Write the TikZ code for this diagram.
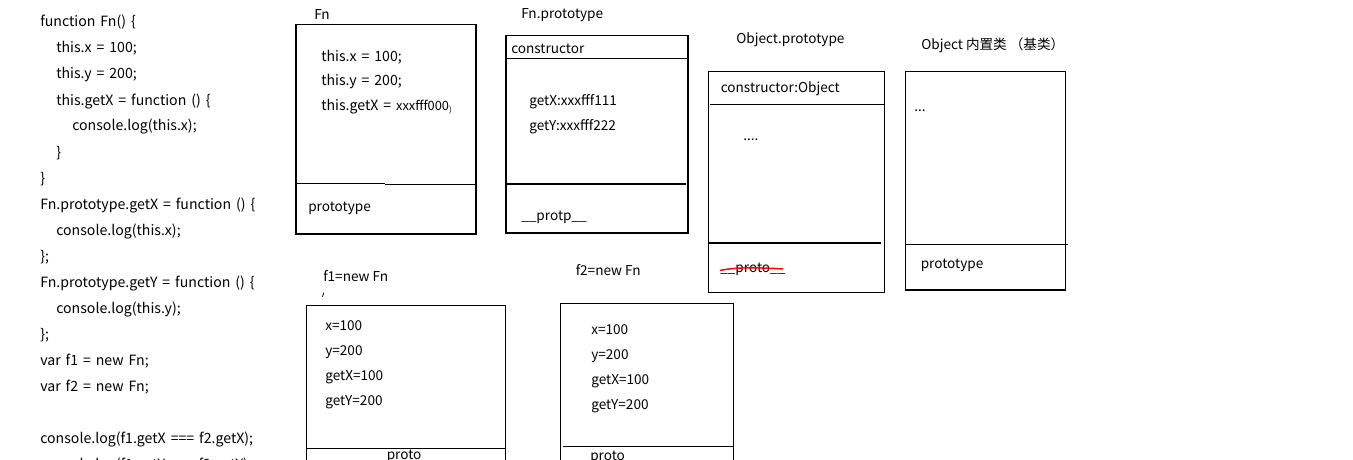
\documentclass[tikz,border=0pt]{standalone}
\usepackage{fontspec}
\setmainfont{Noto Sans CJK SC}
\newcommand{\mycodefont}{\fontsize{10.6}{12}\selectfont\spaceskip=3.7pt\relax}
\begin{document}
\begin{tikzpicture}[x=0.75pt,y=-0.75pt,
  txt/.style={anchor=base west,inner sep=0pt,font=\fontsize{10.2}{12}\selectfont},
  code/.style={anchor=base west,inner sep=0pt,font=\mycodefont},
  box/.style={draw=black,line width=0.8pt},
  sep/.style={draw=black,line width=0.8pt}]
\useasboundingbox (0,0) rectangle (1353,460);
\clip (0,0) rectangle (1353,460);
% code
\node[code] (c1) at (40,27) {function Fn() \{};
\node[code] (c2) at (56,53) {this.x = 100;};
\node[code] (c3) at (56,79) {this.y = 200;};
\node[code] (c4) at (56,105) {this.getX = function () \{};
\node[code] (c5) at (72,131) {console.log(this.x);};
\node[code] (c6) at (56,157) {\}};
\node[code] (c7) at (40,183) {\}};
\node[code] (c8) at (40,209) {Fn.prototype.getX = function () \{};
\node[code] (c9) at (56,235) {console.log(this.x);};
\node[code] (c10) at (40,261) {\};};
\node[code] (c11) at (40,287) {Fn.prototype.getY = function () \{};
\node[code] (c12) at (56,313) {console.log(this.y);};
\node[code] (c13) at (40,339) {\};};
\node[code] (c14) at (40,365) {var f1 = new Fn;};
\node[code] (c15) at (40,391) {var f2 = new Fn;};
\node[code] (c16) at (40,443) {console.log(f1.getX === f2.getX);};
\node[code] (c17) at (40,469) {console.log(f1.getY === f2.getY);};
% Fn box
\node[txt] (fnl) at (314,20) {Fn};
\draw[box] (296,24.5) rectangle (476,234);
\draw[sep] (296,183.7) -- (385,183.7);
\draw[sep] (385,184.2) -- (475,184.2);
\node[code] (fn1) at (321,62) {this.x = 100;};
\node[code] (fn2) at (321,85.5) {this.y = 200;};
\node[code] (fn3) at (321,110.5) {this.getX = {\fontsize{9.6}{10}\selectfont xxxfff000}\raisebox{-1.5pt}{\fontsize{6}{7}\selectfont )}};
\node[txt] (fn4) at (308,211) {prototype};
% Fn.prototype
\node[txt] (fpl) at (521,18.5) {Fn.prototype};
\draw[box] (506,35.5) rectangle (688,233);
\draw[sep] (506,58.3) -- (688,58.3);
\draw[sep] (506,184) -- (686,184);
\node[txt] (fp1) at (511,54) {constructor};
\node[txt] (fp2) at (529,106) {getX:xxxfff111};
\node[txt] (fp3) at (529,131) {getY:xxxfff222};
\node[txt] (fp4) at (521,220) {\_\_protp\_\_};
% Object.prototype
\node[txt] (opl) at (736,44) {Object.prototype};
\draw[box] (708.3,71.7) rectangle (884.3,292.3);
\draw[sep] (710,104.3) -- (884.3,104.3);
\draw[sep] (708.3,243) -- (881,243);
\node[txt] (op1) at (720.5,92.7) {constructor:Object};
\node[txt] (op2) at (743,140.7) {....};
\node[txt] (op3) at (720,272) {\_\_proto\_\_};
\draw[red,line width=1.1pt] (720,270.5) .. controls (735,267) and (760,267.5) .. (783,269);
% Object
\node[txt] (obl) at (921,49.3) {Object 内置类 （基类）};
\draw[box] (905.3,71.7) rectangle (1065.3,290);
\draw[sep] (905.3,244.3) -- (1067.7,244.3);
\node[txt] (ob1) at (914,111.7) {...};
\node[txt] (ob2) at (920.5,268) {prototype};
% f1
\node[txt] (f1l) at (323,281.7) {f1=new Fn};
\draw[line width=0.6pt] (322.5,296.7) -- (323.8,292.7);
\draw[box] (306.7,305.7) rectangle (505.3,470);
\draw[sep] (306.7,448.3) -- (505.3,448.3);
\node[txt] (f11) at (325,330) {x=100};
\node[txt] (f12) at (325,355) {y=200};
\node[txt] (f13) at (325,380) {getX=100};
\node[txt] (f14) at (325,405) {getY=200};
\node[txt] (f15) at (386.5,459.5) {proto};
% f2
\node[txt] (f2l) at (575.5,275) {f2=new Fn};
\draw[box] (560.3,303.3) rectangle (733.7,470);
\draw[sep] (563,446.7) -- (733.7,446.7);
\node[txt] (f21) at (591,334.3) {x=100};
\node[txt] (f22) at (591,359.3) {y=200};
\node[txt] (f23) at (591,384.3) {getX=100};
\node[txt] (f24) at (591,409.3) {getY=200};
\node[txt] (f25) at (590,460.5) {proto};
\end{tikzpicture}
\end{document}
